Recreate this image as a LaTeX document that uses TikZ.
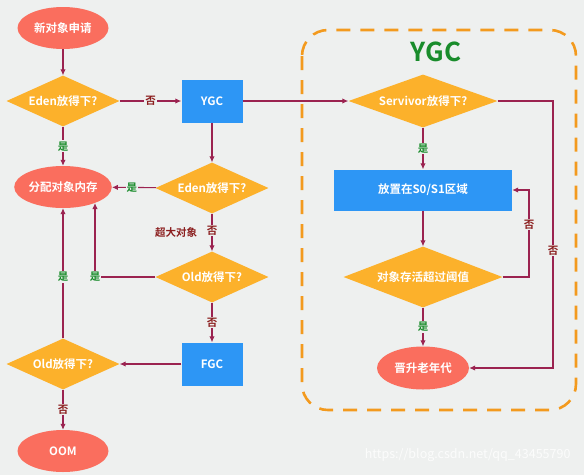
\documentclass[tikz,border=0pt]{standalone}
\usepackage{fontspec}
\setmainfont{Noto Sans CJK SC}[BoldFont={Noto Sans CJK SC Bold}]
\usetikzlibrary{shapes.geometric,arrows.meta}
\definecolor{bgc}{HTML}{EEF0EF}
\definecolor{ellc}{HTML}{FA6E5E}
\definecolor{diac}{HTML}{FCB12B}
\definecolor{boxc}{HTML}{2D96F5}
\definecolor{linec}{HTML}{9B2350}
\definecolor{yesc}{HTML}{198C2B}
\definecolor{noc}{HTML}{8B1E1E}
\definecolor{dashc}{HTML}{F39A1E}
\tikzset{
  ell/.style={ellipse,fill=ellc,draw=none,minimum width=91pt,minimum height=42pt,inner sep=0pt,text=white,font=\bfseries\fontsize{11.5}{12}\selectfont},
  dia/.style={diamond,fill=diac,draw=none,minimum width=113pt,minimum height=51pt,inner sep=0pt,aspect=2.2,text=white,font=\bfseries\fontsize{11.5}{12}\selectfont},
  blk/.style={rectangle,fill=boxc,draw=none,inner sep=0pt,text=white,font=\bfseries\fontsize{11.5}{12}\selectfont},
  conn/.style={draw=linec,line width=1.1pt,-{Latex[length=6pt,width=5.5pt]}},
  plain/.style={draw=linec,line width=1.1pt},
  yes/.style={fill=bgc,text=yesc,inner sep=1pt,font=\bfseries\fontsize{10.5}{11}\selectfont},
  no/.style={fill=bgc,text=noc,inner sep=1pt,font=\bfseries\fontsize{10.5}{11}\selectfont},
}
\begin{document}
\begin{tikzpicture}[x=1pt,y=-1pt]
\fill[bgc] (0,0) rectangle (584,475);
\useasboundingbox (0,0) rectangle (584,475);
% YGC frame
\draw[dashc,line width=2.6pt,dash pattern=on 14pt off 10pt,rounded corners=26pt] (302,30) rectangle (576,410);
\node[text=yesc,font=\bfseries\fontsize{26}{28}\selectfont] (title) at (436,52) {YGC};
% nodes
\node[ell] (new) at (63,28) {新对象申请};
\node[dia] (d1) at (63,101) {Eden放得下?};
\node[blk,minimum width=61pt,minimum height=43pt] (ygc) at (212,101) {YGC};
\node[ell] (alloc) at (63,187) {分配对象内存};
\node[dia] (d2) at (212,188) {Eden放得下?};
\node[dia] (old1) at (212,277) {Old放得下?};
\node[blk,minimum width=61pt,minimum height=43pt] (fgc) at (212,364) {FGC};
\node[dia] (old2) at (63,364) {Old放得下?};
\node[ell] (oom) at (63,451) {OOM};
\node[dia,minimum width=149pt,minimum height=53pt] (sv) at (423,101) {Servivor放得下?};
\node[blk,minimum width=178pt,minimum height=41pt] (s01) at (423,190) {放置在S0/S1区域};
\node[dia,minimum width=159pt,minimum height=61pt] (th) at (423,277) {对象存活超过阈值};
\node[ell,minimum width=92pt,minimum height=43pt] (prom) at (423,368) {晋升老年代};
\coordinate (c1) at (529,277);
\coordinate (c2) at (553,101);
\coordinate (c3) at (95,277);
\coordinate (c4) at (95,203);
% connectors
\draw[conn] (new) -- (d1);
\draw[conn] (d1) -- node[no]{否} (ygc);
\draw[conn] (ygc) -- (sv);
\draw[conn] (d1) -- node[yes]{是} (alloc);
\draw[conn] (ygc) -- (d2);
\draw[conn] (d2) -- node[yes,pos=0.55]{是} (alloc);
\draw[conn] (d2) -- node[no,pos=0.45]{否} (old1);
\node[no] (big) at (176,232) {超大对象};
\draw[plain] (old1.west) -- (c3);
\draw[conn] (c3) -- (c4);
\node[yes] (yes3) at (c3) {是};
\draw[conn] (old1) -- node[no]{否} (fgc);
\draw[conn] (fgc) -- (old2);
\draw[conn] (old2) -- node[yes,pos=0.47]{是} (alloc);
\draw[conn] (old2) -- node[no]{否} (oom);
\draw[conn] (sv) -- node[yes]{是} (s01);
\draw[conn] (s01) -- (th);
\draw[conn] (th.east) -- (c1) |- node[no,pos=0.3]{否} (s01.east);
\draw[conn] (sv.east) -- (c2) |- node[no,pos=0.28]{否} (prom.east);
\draw[conn] (th) -- node[yes]{是} (prom);
\node[text=white,opacity=0.8,font=\fontsize{12.5}{13}\selectfont,anchor=east] (wm) at (574,455) {https://blog.csdn.net/qq\_43455790};
\end{tikzpicture}
\end{document}
